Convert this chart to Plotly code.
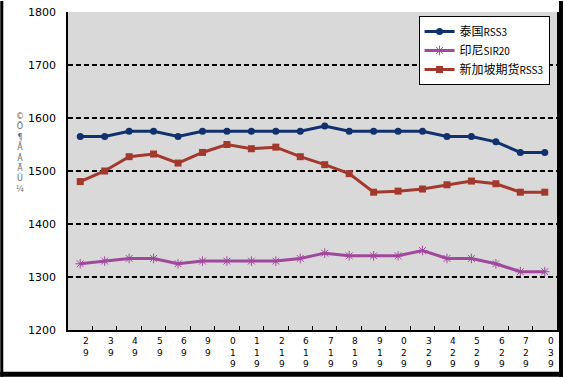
import plotly.graph_objects as go

# ---- data ----
tick_labels = ["29", "39", "49", "59", "69", "99", "019", "119", "219", "619",
               "719", "819", "919", "029", "329", "429", "529", "629", "729", "039"]
thai_rss3 = [1565, 1565, 1575, 1575, 1565, 1575, 1575, 1575, 1575, 1575,
             1585, 1575, 1575, 1575, 1575, 1565, 1565, 1555, 1535, 1535]
indo_sir20 = [1325, 1330, 1335, 1335, 1325, 1330, 1330, 1330, 1330, 1335,
              1345, 1340, 1340, 1340, 1350, 1335, 1335, 1325, 1310, 1310]
sg_rss3 = [1480, 1500, 1527, 1532, 1515, 1535, 1550, 1542, 1545, 1527,
           1512, 1495, 1460, 1462, 1466, 1474, 1481, 1476, 1460, 1460]
series_names = ["泰国<span style='font-size:10px'>RSS3</span>",
                "印尼<span style='font-size:10px'>SIR20</span>",
                "新加坡期货<span style='font-size:10px'>RSS3</span>"]
y_title_chars = ["©", "Ö", "¶", "Å", "Ã", "Ä", "Û", "¼"]
y_ticks = [1200, 1300, 1400, 1500, 1600, 1700, 1800]

cats = list(range(len(tick_labels)))

W, H = 565, 377
L, R, T, B = 68, 6, 11, 47
PW, PH = W - L - R, H - T - B

def px2x(px):
    return (px - L) / PW

def px2y(py):
    return (H - B - py) / PH

blue = "#10306E"
purple = "#A0489C"
red = "#A3382C"

fig = go.Figure()
fig.add_trace(go.Scatter(x=cats, y=thai_rss3, name=series_names[0], mode="lines+markers",
                         line=dict(color=blue, width=3),
                         marker=dict(symbol="circle", size=7, color=blue)))
fig.add_trace(go.Scatter(x=cats, y=indo_sir20, name=series_names[1], mode="lines+markers",
                         line=dict(color=purple, width=3),
                         marker=dict(symbol="asterisk-open", size=8,
                                     line=dict(color=purple, width=1), color=purple)))
fig.add_trace(go.Scatter(x=cats, y=sg_rss3, name=series_names[2], mode="lines+markers",
                         line=dict(color=red, width=3),
                         marker=dict(symbol="square", size=7, color=red)))

annotations = []
# x tick labels: vertically stacked characters
for i, lab in enumerate(tick_labels):
    annotations.append(dict(x=cats[i], xref="x", y=0, yref="paper",
                            text="<br>".join(lab), showarrow=False,
                            xanchor="center", yanchor="top",
                            xshift=6, yshift=-4,
                            font=dict(family="DejaVu Sans", size=9, color="#000000")))
# y title (garbled vertical text)
annotations.append(dict(x=px2x(20), xref="paper", y=px2y(152), yref="paper",
                        text="<br>".join(y_title_chars), showarrow=False,
                        xanchor="center", yanchor="middle",
                        font=dict(family="DejaVu Sans", size=8, color="#666666")))

shapes = [
    dict(type="rect", xref="paper", yref="paper", x0=px2x(0), x1=px2x(3),
         y0=px2y(H), y1=px2y(0), fillcolor="black", line=dict(width=0), layer="above"),
    dict(type="rect", xref="paper", yref="paper", x0=px2x(561), x1=px2x(W),
         y0=px2y(H), y1=px2y(0), fillcolor="black", line=dict(width=0), layer="above"),
    dict(type="rect", xref="paper", yref="paper", x0=px2x(0), x1=px2x(W),
         y0=px2y(H), y1=px2y(372), fillcolor="black", line=dict(width=0), layer="above"),
]

fig.update_layout(
    width=W, height=H,
    margin=dict(l=L, r=R, t=T, b=B, pad=0),
    paper_bgcolor="white",
    plot_bgcolor="#D9D9D9",
    font=dict(family="DejaVu Sans", size=12, color="black"),
    showlegend=True,
    legend=dict(x=px2x(420), y=px2y(15), xanchor="left", yanchor="top",
                bgcolor="white", bordercolor="black", borderwidth=1,
                font=dict(family="Noto Sans CJK SC", size=12, color="black"),
                itemwidth=30, tracegroupgap=0),
    annotations=annotations,
    shapes=shapes,
    xaxis=dict(type="linear", range=[-0.5, len(cats) - 0.5], showgrid=False,
               showticklabels=False, tickmode="array",
               tickvals=[k - 0.5 for k in range(1, len(cats))],
               ticks="inside", ticklen=4, tickcolor="black", tickwidth=1,
               showline=True, linecolor="black", linewidth=1.5, mirror=False,
               zeroline=False, fixedrange=True),
    yaxis=dict(range=[1200, 1800], tickmode="array", tickvals=y_ticks,
               ticktext=[str(v) for v in y_ticks],
               showgrid=True, gridcolor="black", gridwidth=1.5, griddash="5px,3px",
               showline=True, linecolor="black", linewidth=1.5, mirror=True,
               ticks="", ticklabelstandoff=8, zeroline=False,
               tickfont=dict(family="DejaVu Sans", size=11, color="black")),
)

fig.write_html("out.html", config={"displayModeBar": False},
               post_script="document.body.style.margin='0';document.body.style.overflow='hidden';")
